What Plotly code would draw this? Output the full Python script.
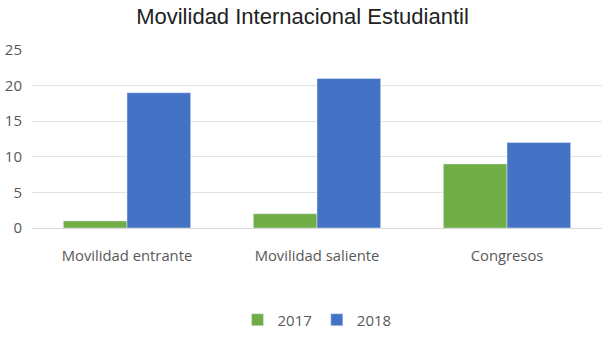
import plotly.graph_objects as go

categories = ["Movilidad entrante", "Movilidad saliente", "Congresos"]
values_2017 = [1, 2, 9]
values_2018 = [19, 21, 12]
y_ticks = [0, 5, 10, 15, 20, 25]

fig = go.Figure()
fig.add_trace(go.Bar(name="2017", x=categories, y=values_2017, marker_color="#70AD47"))
fig.add_trace(go.Bar(name="2018", x=categories, y=values_2018, marker_color="#4472C4"))

fig.update_layout(
    width=605, height=343,
    margin=dict(l=32, r=3, t=50, b=115, autoexpand=False),
    paper_bgcolor="white", plot_bgcolor="white",
    barmode="group", bargap=0.33, bargroupgap=0,
    title=dict(text="Movilidad Internacional Estudiantil", x=0.5, xanchor="center",
               y=0.953, yanchor="middle",
               font=dict(family="Liberation Sans, Arial", size=22, color="#222222")),
    font=dict(family="Open Sans", size=13, color="#595959"),
    yaxis=dict(range=[0, 25], tickvals=y_ticks, showgrid=True, gridcolor="#E3E3E3",
               zeroline=False, showline=False, ticks="", ticklen=0,
               ticklabelstandoff=9,
               tickfont=dict(size=15, color="#595959")),
    xaxis=dict(showline=True, linecolor="#D9D9D9", ticks="",
               ticklabelstandoff=14,
               tickfont=dict(size=14.8, color="#595959")),
    legend=dict(orientation="h", x=0.5, xanchor="center", yref="container",
                y=0.067, yanchor="middle",
                font=dict(size=15, color="#595959"), itemwidth=30),
    showlegend=True,
)

fig.write_html("out.html")
